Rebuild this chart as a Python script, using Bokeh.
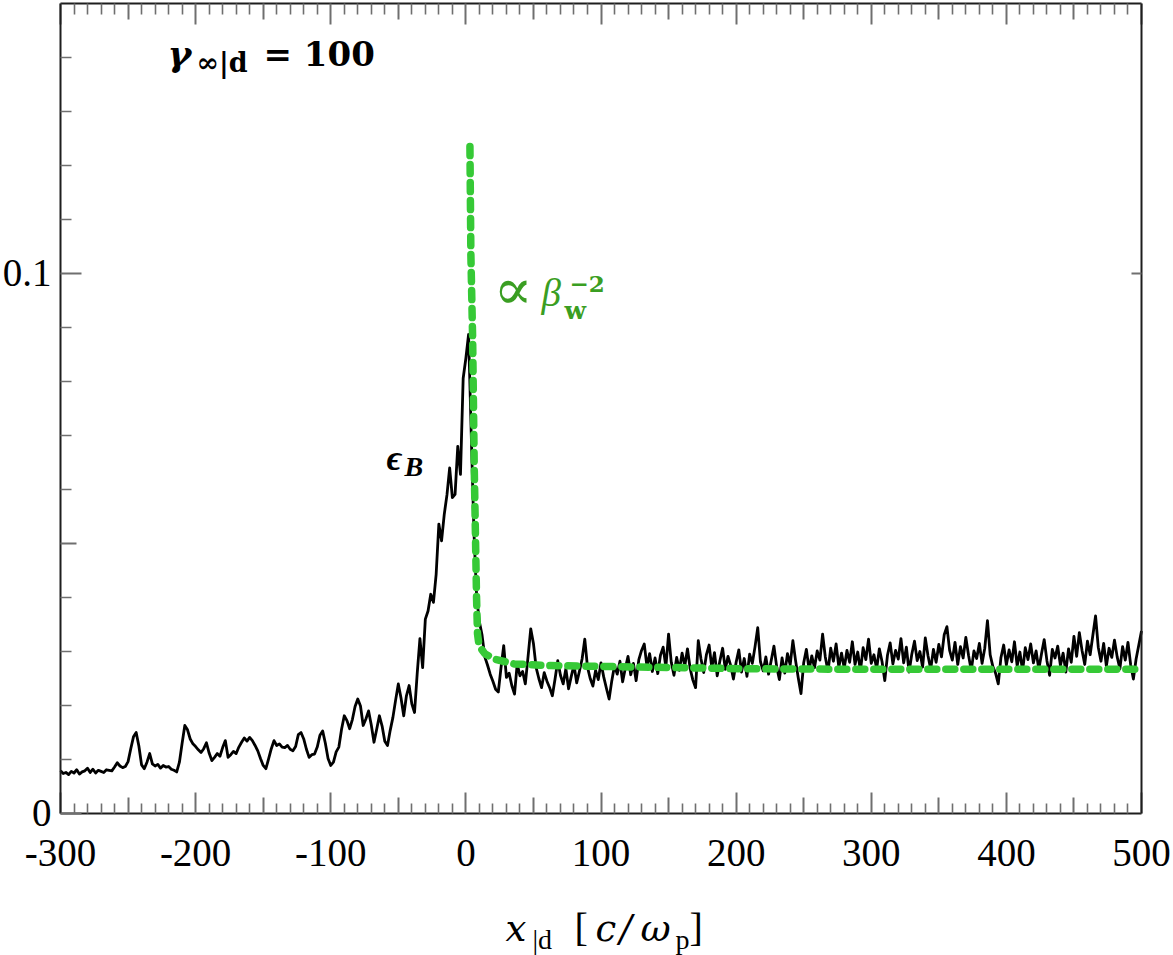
from bokeh.plotting import figure
from bokeh.models import Range1d, LinearAxis, FixedTicker, Label
from bokeh.embed import file_html
from bokeh.resources import INLINE

# Magnetic energy fraction eps_B along x_|d, sampled every 2 c/omega_p
# starting at x = -300; values in units of 1e-3.
x_start, x_step = -300, 2
eps_b_e3 = [
    7.9, 7.4, 7.6, 7.2, 7.8, 7.5, 8.1, 7.3, 7.7, 7.9,            # -300
    8.4, 7.6, 8.2, 7.5, 8.0, 7.8, 7.6, 8.1, 8.0, 7.9,            # -280
    8.6, 9.4, 8.8, 8.5, 8.7, 9.6, 12.0, 14.2, 15.0, 12.5,        # -260
    9.0, 8.3, 9.5, 11.1, 9.2, 8.8, 9.1, 8.4, 8.9, 8.6,           # -240
    8.7, 8.2, 8.0, 7.7, 9.5, 13.0, 16.3, 15.5, 13.8, 12.9,       # -220
    12.4, 11.8, 11.3, 12.0, 13.1, 11.2, 9.8, 10.4, 11.1, 10.6,   # -200
    12.2, 13.5, 10.4, 10.9, 11.5, 11.1, 12.3, 13.2, 14.0, 13.4,  # -180
    14.1, 13.5, 12.6, 11.6, 10.2, 8.9, 8.3, 10.1, 12.0, 13.5,    # -160
    12.6, 12.9, 12.3, 12.2, 12.6, 11.9, 11.6, 12.4, 14.6, 15.0,  # -140
    13.8, 11.9, 10.4, 10.9, 11.0, 12.3, 14.5, 15.3, 13.0, 10.2,  # -120
    8.9, 9.5, 11.4, 12.3, 15.6, 18.1, 17.2, 15.7, 17.4, 19.8,    # -100
    21.2, 19.9, 16.3, 17.5, 19.0, 16.4, 13.2, 15.6, 18.1, 16.2,  # -80
    13.4, 12.6, 15.4, 17.8, 21.0, 24.0, 21.4, 18.1, 21.8, 23.7,  # -60
    20.3, 18.7, 26.0, 32.4, 27.0, 36.0, 37.5, 40.6, 39.1, 44.3,  # -40
    53.6, 50.5, 55.4, 59.0, 64.0, 58.5, 59.1, 68.0, 62.8, 80.6,  # -20
    84.3, 88.7, 70.0, 52.0, 40.0, 35.5, 33.0, 29.0, 27.5, 25.8,  # 0
    24.5, 23.0, 22.5, 27.0, 31.1, 25.2, 26.0, 23.7, 22.1, 27.7,  # 20
    25.5, 26.3, 24.0, 29.0, 34.2, 31.5, 27.0, 25.0, 23.3, 26.1,  # 40
    24.5, 23.3, 21.8, 24.9, 28.3, 25.6, 24.0, 26.8, 23.1, 25.4,  # 60
    27.5, 24.2, 26.3, 28.6, 32.3, 27.1, 25.0, 23.6, 26.5, 24.8,  # 80
    27.9, 25.3, 23.2, 21.2, 24.6, 27.4, 25.8, 28.2, 24.4, 26.9,  # 100
    29.1, 25.7, 27.8, 24.6, 28.5, 30.2, 31.4, 27.2, 29.6, 26.3,  # 120
    28.8, 25.9, 29.3, 30.8, 27.1, 33.2, 28.0, 25.6, 28.9, 26.5,  # 140
    29.7, 27.3, 30.5, 26.8, 24.7, 23.3, 32.0, 28.6, 26.1, 29.4,  # 160
    31.2, 27.0, 29.8, 25.5, 28.3, 30.6, 26.7, 29.1, 27.4, 24.9,  # 180
    28.0, 30.3, 26.2, 28.7, 25.4, 29.5, 27.8, 30.9, 34.4, 28.1,  # 200
    26.4, 29.0, 25.8, 28.4, 31.0, 27.2, 24.8, 28.8, 26.0, 29.6,  # 220
    27.5, 32.0, 28.3, 25.1, 22.2, 27.9, 30.4, 26.6, 29.2, 27.0,  # 240
    30.1, 28.4, 33.2, 29.0, 26.3, 30.6, 28.2, 31.4, 27.1, 29.7,  # 260
    26.9, 30.2, 28.0, 31.8, 27.6, 29.9, 26.4, 30.7, 28.5, 32.3,  # 280
    27.8, 29.4, 26.8, 30.5, 28.1, 24.6, 29.3, 31.6, 27.7, 30.2,  # 300
    28.6, 32.4, 27.9, 30.8, 26.2, 29.5, 31.9, 28.3, 30.0, 27.1,  # 320
    32.5, 29.2, 26.7, 30.4, 28.0, 31.3, 29.0, 33.1, 34.6, 30.2,  # 340
    28.4, 31.7, 27.6, 30.9, 28.8, 32.6, 29.3, 26.5, 30.1, 28.7,  # 360
    31.5, 27.8, 30.6, 35.7, 29.4, 27.2, 26.0, 24.0, 28.9, 31.2,  # 380
    27.5, 30.3, 28.1, 31.8, 27.3, 29.9, 26.4, 30.7, 28.5, 31.4,  # 400
    27.9, 30.1, 26.7, 29.6, 32.2, 28.3, 25.6, 30.4, 28.8, 31.0,  # 420
    27.4, 29.7, 26.2, 30.5, 28.0, 32.8, 29.1, 33.5, 30.2, 27.6,  # 440
    31.9, 29.4, 33.0, 36.6, 30.8, 28.2, 31.5, 27.3, 30.6, 28.9,  # 460
    32.1, 29.0, 26.8, 30.9, 28.4, 31.7, 27.5, 24.9, 28.6, 31.2,  # 480
    33.8,                                                        # 500
]
x_d = [x_start + x_step * i for i in range(len(eps_b_e3))]
eps_b = [v * 1e-3 for v in eps_b_e3]

# beta_w^-2 scaling curve, values in units of 1e-3
fit_x = [3.0, 3.7, 5.0, 6.2, 7.9, 8.6, 9.5, 11.1, 14.0, 21.0, 35.6, 60.5,
         110.0, 208.5, 300.0, 400.0, 495.0]
fit_e3 = [123.5, 103.5, 88.0, 64.0, 40.0, 33.3, 31.6, 30.6, 29.6, 28.6, 27.7,
          27.4, 27.2, 26.8, 26.7, 26.7, 26.7]
fit_y = [v * 1e-3 for v in fit_e3]

# axes
X_MIN, X_MAX = -300, 500
Y_MIN, Y_MAX = 0.0, 0.15
x_major = [-300, -200, -100, 0, 100, 200, 300, 400, 500]
x_mid = [-250, -150, -50, 50, 150, 250, 350, 450]
x_minor = [v for v in range(-300, 501, 10) if v % 50]
x_labels = ["-300", "-200", "-100", "0", "100", "200", "300", "400", "500"]
y_major = [0.0, 0.1]
y_mid = [0.05]
y_minor = [0.01, 0.02, 0.03, 0.04, 0.06, 0.07, 0.08, 0.09, 0.11, 0.12, 0.13, 0.14]
y_labels = ["0", "0.1"]

SERIF = "Liberation Serif"
WIDE = "DejaVu Serif"
TICK = "#6f6f6f"
SPINE = "#1e1e1e"
GREEN_LINE = "#36c936"
GREEN_TEXT = "#3a9e22"

# page layout: the frame fills the page, the axes box sits inside it
W, H = 1173, 955
BOX_L, BOX_R, BOX_T, BOX_B = 60, 1141, 3, 813
sx = (BOX_R - BOX_L) / (X_MAX - X_MIN)
sy = (BOX_B - BOX_T) / (Y_MAX - Y_MIN)
# Bokeh sets "alphabetic" text slightly low; lift it by this fraction of the size
LIFT = 0.4

p = figure(width=W, height=H, output_backend="svg", toolbar_location=None,
           x_range=Range1d(X_MIN - BOX_L / sx, X_MAX + (W - BOX_R) / sx),
           y_range=Range1d(Y_MIN - (H - BOX_B) / sy, Y_MAX + BOX_T / sy),
           x_axis_type=None, y_axis_type=None, min_border=0)
p.outline_line_color = None
p.grid.visible = False
p.background_fill_color = "white"
p.border_fill_color = "white"


def styled_axis(ticks, minor, tick_len, minor_len, side, loc, bounds, line=True):
    ax = LinearAxis(ticker=FixedTicker(ticks=ticks, minor_ticks=minor),
                    fixed_location=loc, bounds=bounds)
    ax.major_tick_in = tick_len
    ax.major_tick_out = 0
    ax.minor_tick_in = minor_len
    ax.minor_tick_out = 0
    ax.major_tick_line_color = TICK
    ax.major_tick_line_width = 2
    ax.minor_tick_line_color = TICK
    ax.minor_tick_line_width = 1.6
    ax.axis_line_color = SPINE if line else None
    ax.axis_line_width = 2
    ax.major_label_text_color = None
    ax.major_label_text_font_size = "1px"
    ax.major_label_standoff = 0
    p.add_layout(ax, side)
    return ax


xb, yb = (X_MIN, X_MAX), (Y_MIN, Y_MAX)
styled_axis(x_major, x_minor, 21, 10, "below", Y_MIN, xb)
styled_axis(y_major, y_minor, 21, 11, "left", X_MIN, yb)
styled_axis(x_major, x_minor, 21, 11, "above", Y_MAX, xb)
styled_axis([0.1], [], 10, 0, "right", X_MAX, yb)
# medium-length ticks at the half-decades
styled_axis(x_mid, [], 16, 0, "below", Y_MIN, xb, line=False)
styled_axis(x_mid, [], 16, 0, "above", Y_MAX, xb, line=False)
styled_axis(y_mid, [], 16, 0, "left", X_MIN, yb, line=False)

# tick labels
for v, lab in zip(x_major, x_labels):
    p.add_layout(Label(x=v, y=Y_MIN, text=lab, y_offset=-55 + LIFT * 39, text_font=SERIF,
                       text_font_size="39px", text_align="center",
                       text_baseline="alphabetic", text_color="black"))
for v, lab in zip(y_major, y_labels):
    p.add_layout(Label(x=X_MIN, y=v, text=lab, x_offset=-9, y_offset=-15 + LIFT * 39,
                       text_font=SERIF, text_font_size="39px", text_align="right",
                       text_baseline="alphabetic", text_color="black"))

p.line(x_d, eps_b, line_color="black", line_width=2.8, line_join="round")
p.line(fit_x, fit_y, line_color=GREEN_LINE, line_width=7.5, line_dash="9 9",
       line_cap="round", line_join="round")


def put(txt, X, Y, size, style="normal", color="black", font=SERIF):
    # X, Y: page position where the text baseline starts
    p.add_layout(Label(x=X, y=H - Y + LIFT * size, x_units="screen", y_units="screen",
                       text=txt, text_font=font, text_font_size=f"{size}px",
                       text_font_style=style, text_color=color,
                       text_align="left", text_baseline="alphabetic"))


# Lorentz factor annotation
put("γ", 167, 67, 36, "bold italic", font=WIDE)
put("∞|d", 196, 73, 27, "bold", font=WIDE)
put("= 100", 263, 67, 34, "bold", font=WIDE)

# scaling annotation
put("∝", 493, 312, 58, "normal", GREEN_TEXT, font=WIDE)
put("β", 541, 308, 39, "italic", GREEN_TEXT)
put("−2", 569, 293, 23, "bold", GREEN_TEXT, font=WIDE)
put("w", 564, 320, 25, "bold", GREEN_TEXT, font=WIDE)

# curve label
put("ϵ", 386, 472, 36, "bold italic")
put("B", 404, 477, 28, "bold italic")

# x-axis title
put("x", 505, 943, 37, "italic", font=WIDE)
put("|d", 532, 950, 28)
put("[", 574, 943, 40)
put("c", 595, 943, 37, "italic", font=WIDE)
put("/", 619, 943, 37, "italic", font=WIDE)
put("ω", 640, 943, 37, "italic", font=WIDE)
put("p", 675, 950, 28)
put("]", 689, 943, 40)

open("out.html", "w").write(file_html(p, INLINE))
